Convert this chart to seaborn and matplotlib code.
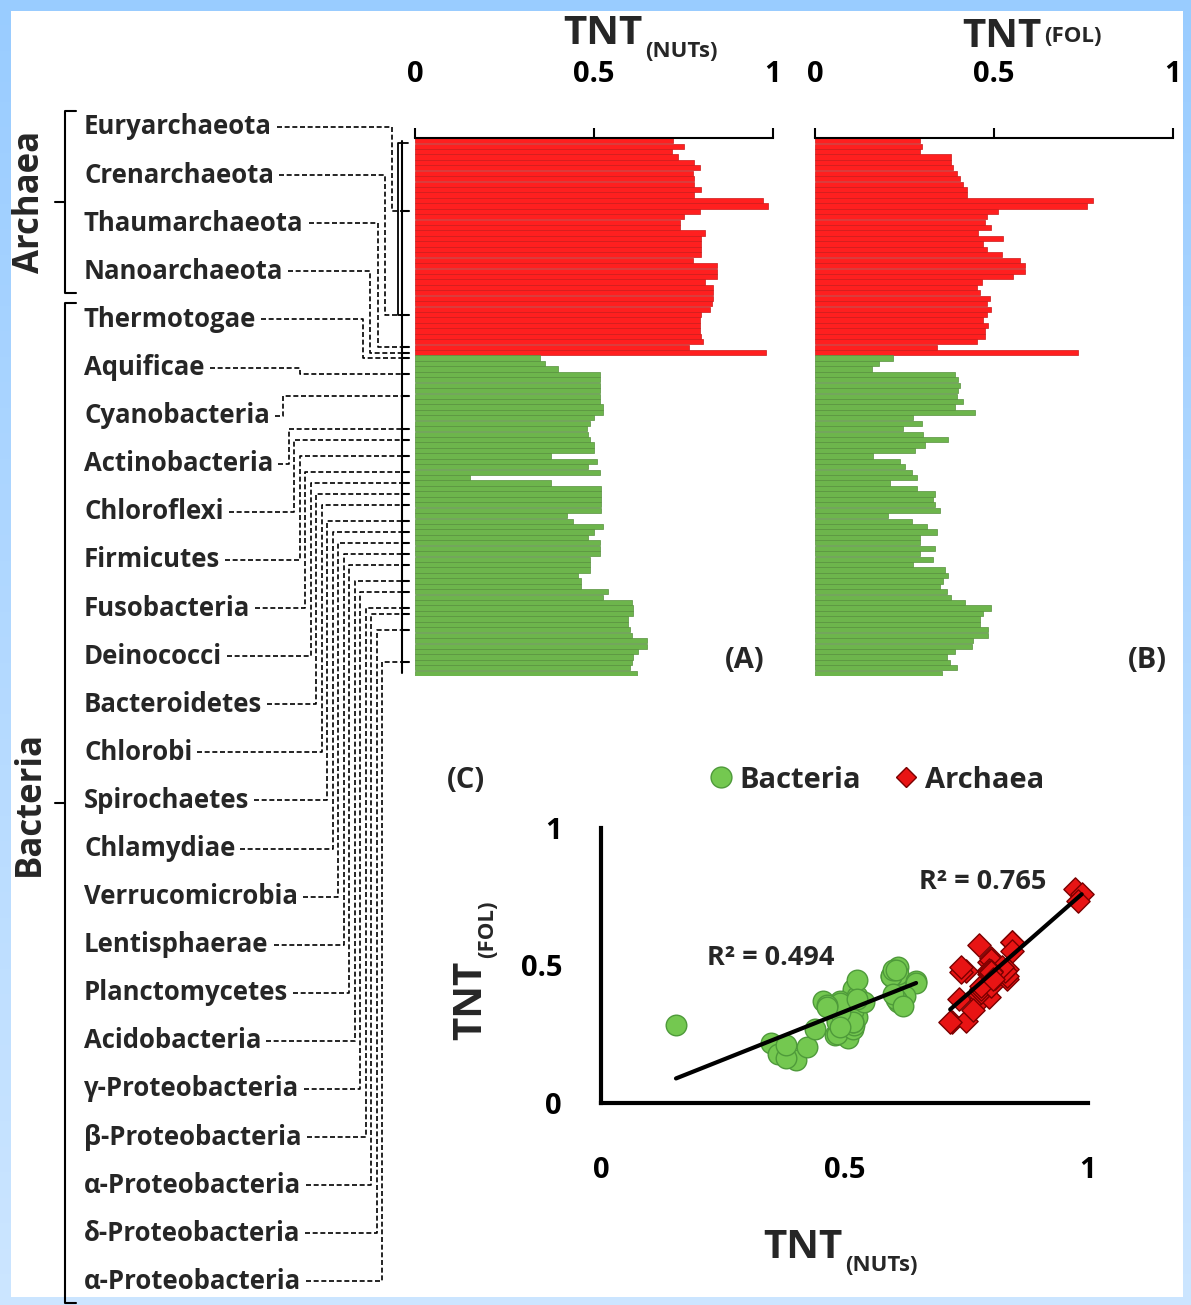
import numpy as np
import pandas as pd
import matplotlib
matplotlib.use("Agg")
import matplotlib.pyplot as plt
import seaborn as sns
from matplotlib.lines import Line2D
from matplotlib.patches import Rectangle
from matplotlib.colors import to_rgb

# ---------------- data ----------------
nuts_archaea = [0.72, 0.75, 0.717, 0.735, 0.78, 0.796, 0.777, 0.78, 0.78, 0.80,
                0.78, 0.973, 0.987, 0.796, 0.75, 0.74, 0.74, 0.81, 0.80, 0.80,
                0.80, 0.80, 0.777, 0.843, 0.843, 0.843, 0.81, 0.833, 0.833, 0.833,
                0.83, 0.824, 0.80, 0.796, 0.796, 0.796, 0.80, 0.805, 0.764, 0.98]
fol_archaea = [0.293, 0.298, 0.293, 0.38, 0.38, 0.386, 0.396, 0.405, 0.414, 0.424,
               0.424, 0.777, 0.759, 0.512, 0.48, 0.475, 0.493, 0.456, 0.526, 0.47,
               0.48, 0.521, 0.573, 0.587, 0.587, 0.554, 0.466, 0.452, 0.461, 0.489,
               0.48, 0.493, 0.48, 0.47, 0.484, 0.475, 0.475, 0.452, 0.34, 0.736]
nuts_bacteria = [0.35, 0.363, 0.40, 0.517, 0.517, 0.517, 0.517, 0.517, 0.517, 0.526,
                 0.526, 0.50, 0.49, 0.48, 0.484, 0.49, 0.50, 0.50, 0.38, 0.507,
                 0.484, 0.517, 0.154, 0.38, 0.52, 0.52, 0.52, 0.52, 0.52, 0.424,
                 0.44, 0.526, 0.50, 0.484, 0.517, 0.517, 0.517, 0.49, 0.49, 0.49,
                 0.456, 0.465, 0.465, 0.54, 0.526, 0.605, 0.61, 0.61, 0.596, 0.596,
                 0.60, 0.605, 0.647, 0.647, 0.624, 0.61, 0.605, 0.60, 0.62]
fol_bacteria = [0.219, 0.18, 0.158, 0.39, 0.40, 0.405, 0.40, 0.396, 0.414, 0.39,
                0.447, 0.275, 0.298, 0.247, 0.303, 0.372, 0.307, 0.28, 0.163, 0.237,
                0.251, 0.27, 0.284, 0.21, 0.284, 0.335, 0.33, 0.335, 0.349, 0.205,
                0.27, 0.312, 0.34, 0.293, 0.293, 0.335, 0.293, 0.33, 0.275, 0.363,
                0.372, 0.358, 0.349, 0.368, 0.38, 0.419, 0.493, 0.47, 0.461, 0.461,
                0.484, 0.484, 0.442, 0.438, 0.39, 0.368, 0.377, 0.396, 0.354]

phyla = ["Euryarchaeota", "Crenarchaeota", "Thaumarchaeota", "Nanoarchaeota",
         "Thermotogae", "Aquificae", "Cyanobacteria", "Actinobacteria", "Chloroflexi",
         "Firmicutes", "Fusobacteria", "Deinococci", "Bacteroidetes", "Chlorobi",
         "Spirochaetes", "Chlamydiae", "Verrucomicrobia", "Lentisphaerae",
         "Planctomycetes", "Acidobacteria", "γ-Proteobacteria", "β-Proteobacteria",
         "α-Proteobacteria", "δ-Proteobacteria", "α-Proteobacteria"]
n_archaeal_phyla = 4
# genome row (in the bar panels) where each phylum joins the tree
join_rows = [13, 32, 38, 39, 40, 43, 47, 53, 55, 58, 61, 63, 65, 67, 70, 72,
             74, 76, 78, 81, 83, 86, 87, 90, 96]

r2_labels = {"Bacteria": "R² = 0.494", "Archaea": "R² = 0.765"}

# ---------------- style ----------------
sns.set_theme(style="white")
plt.rcParams["font.family"] = ["Open Sans", "DejaVu Sans"]
plt.rcParams["font.weight"] = "bold"
plt.rcParams["axes.labelweight"] = "bold"

RED = "#FF1F1F"
GREEN = "#6DB54C"
SC_GREEN = "#74C850"
SC_RED = "#E81414"

W, H = 1191, 1305
fig = plt.figure(figsize=(W / 100, H / 100), dpi=100)


def fx(px):
    return px / W


def fy(py):
    return 1 - py / H


# frame: light-blue gradient border around a white sheet
bg = fig.add_axes([0, 0, 1, 1], zorder=-10)
g = np.linspace(0, 1, 256)[:, None, None]
top_c = np.array([0.60, 0.80, 1.0])
bot_c = np.array([0.80, 0.90, 1.0])
bg.imshow(top_c + (bot_c - top_c) * g, extent=(0, W, H, 0), aspect="auto")
bg.add_patch(Rectangle((11, 11), 1183 - 11, 1297 - 11, facecolor="white", edgecolor="none"))
bg.set_xlim(0, W)
bg.set_ylim(H, 0)
bg.axis("off")

# ---------------- bar panels ----------------
n_a, n_b = len(nuts_archaea), len(nuts_bacteria)
df = pd.DataFrame({
    "row": [f"g{i:03d}" for i in range(n_a + n_b)],
    "nuts": nuts_archaea + nuts_bacteria,
    "fol": fol_archaea + fol_bacteria,
    "domain": ["Archaea"] * n_a + ["Bacteria"] * n_b,
})
bar_pal = {"Archaea": RED, "Bacteria": GREEN}

axA = fig.add_axes([fx(415), fy(676), fx(773) - fx(415), (676 - 138) / H])
axB = fig.add_axes([fx(815), fy(676), fx(1173) - fx(815), (676 - 138) / H])
for ax, col in ((axA, "nuts"), (axB, "fol")):
    sns.barplot(data=df, x=col, y="row", hue="domain", palette=bar_pal, orient="h",
                dodge=False, width=0.96, saturation=1, legend=False, ax=ax)
    for p in ax.patches:
        fc = to_rgb(p.get_facecolor())
        p.set_edgecolor(tuple(c * 0.8 for c in fc))
        p.set_linewidth(0.5)
    ax.set_xlim(0, 1)
    ax.set_xticks([0, 0.5, 1])
    ax.set_xticklabels(["0", "0.5", "1"])
    ax.xaxis.tick_top()
    ax.tick_params(axis="x", direction="out", length=7, width=1.5, pad=28,
                   labelsize=21, color="black", labelcolor="black")
    ax.set_yticks([])
    for s in ("left", "right", "bottom"):
        ax.spines[s].set_visible(False)
    ax.spines["top"].set_linewidth(1.5)
    ax.spines["top"].set_color("black")
    ax.set_xlabel("")
    ax.set_ylabel("")
    ax.patch.set_visible(False)

# ---------------- scatter panel ----------------
axC = fig.add_axes([fx(601), fy(1103), fx(1088) - fx(601), (1103 - 828) / H])
sns.scatterplot(data=df[df.domain == "Bacteria"], x="nuts", y="fol", marker="o",
                color=SC_GREEN, edgecolor="#4E9A3A", linewidth=1, s=220,
                ax=axC, legend=False, zorder=3, clip_on=False)
sns.scatterplot(data=df[df.domain == "Archaea"], x="nuts", y="fol", marker="D",
                color=SC_RED, edgecolor="#7A0000", linewidth=1, s=140,
                ax=axC, legend=False, zorder=3, clip_on=False)
for dom in ("Bacteria", "Archaea"):
    sns.regplot(data=df[df.domain == dom], x="nuts", y="fol", scatter=False, ci=None,
                color="black", line_kws=dict(lw=3, zorder=4), ax=axC)
axC.set_xlim(0, 1)
axC.set_ylim(0, 1)
axC.set_xticks([0, 0.5, 1])
axC.set_xticklabels(["0", "0.5", "1"])
axC.set_yticks([0, 0.5, 1])
axC.set_yticklabels(["0", "0.5", "1"])
axC.tick_params(axis="both", length=0, labelsize=21, labelcolor="black")
axC.tick_params(axis="x", pad=38)
axC.tick_params(axis="y", pad=28)
for s in ("top", "right"):
    axC.spines[s].set_visible(False)
for s in ("left", "bottom"):
    axC.spines[s].set_linewidth(3)
    axC.spines[s].set_color("black")
axC.set_xlabel("")
axC.set_ylabel("")
axC.patch.set_visible(False)

handles = [
    Line2D([], [], ls="none", marker="o", ms=15, mfc=SC_GREEN, mec="#4E9A3A", label="Bacteria"),
    Line2D([], [], ls="none", marker="D", ms=10, mfc=SC_RED, mec="#7A0000", label="Archaea"),
]
axC.legend(handles=handles, loc="center", bbox_to_anchor=(fx(876), fy(780)),
           bbox_transform=fig.transFigure, ncol=2, frameon=False, fontsize=21,
           handletextpad=0.2, columnspacing=1.1, handlelength=0.9)

# ---------------- overlay: texts and tree ----------------
ov = fig.add_axes([0, 0, 1, 1], zorder=5)
ov.set_xlim(0, W)
ov.set_ylim(H, 0)
ov.axis("off")

t = fig.text(fx(563), fy(44), "TNT", fontsize=29, ha="left", va="baseline")
ov.annotate("(NUTs)", xy=(1, 0.05), xycoords=t, xytext=(2, 0), textcoords="offset points",
            ha="left", va="center", fontsize=16)
t = fig.text(fx(962), fy(47), "TNT", fontsize=29, ha="left", va="baseline")
ov.annotate("(FOL)", xy=(1, 0.5), xycoords=t, xytext=(2, 0), textcoords="offset points",
            ha="left", va="center", fontsize=16)
t = fig.text(fx(763), fy(1258), "TNT", fontsize=29, ha="left", va="baseline")
ov.annotate("(NUTs)", xy=(1, 0.05), xycoords=t, xytext=(2, 0), textcoords="offset points",
            ha="left", va="center", fontsize=16)
t = fig.text(fx(490), fy(1040), "TNT", fontsize=29, rotation=90, ha="right", va="bottom")
ov.annotate("(FOL)", xy=(0.95, 1), xycoords=t, xytext=(0, 2), textcoords="offset points",
            ha="center", va="bottom", rotation=90, fontsize=16)

ov.text(745, 660, "(A)", ha="center", va="center", fontsize=21)
ov.text(1147, 660, "(B)", ha="center", va="center", fontsize=21)
ov.text(466, 780, "(C)", ha="center", va="center", fontsize=21)
ov.text(771, 958, r2_labels["Bacteria"], ha="center", va="center", fontsize=19.5)
ov.text(983, 882, r2_labels["Archaea"], ha="center", va="center", fontsize=19.5)

label_y = 127 + 48.1 * np.arange(len(phyla))
texts = [ov.text(84, y, name, ha="left", va="center", fontsize=18.5)
         for name, y in zip(phyla, label_y)]

fig.canvas.draw()
renderer = fig.canvas.get_renderer()


def row_y(r):
    return H - axA.transData.transform((0, r))[1]


dash = (0, (3, 1.6))
tree_x = 402
for i, (txt, y0, r) in enumerate(zip(texts, label_y, join_rows)):
    x_end = txt.get_window_extent(renderer).x1 + 5
    if i < 5:
        depth = 392 - 7.2 * i
    elif i == 5:
        depth = 300
    else:
        depth = 283 + 5.5 * (i - 6)
    yr = row_y(r)
    ov.plot([x_end, depth, depth, tree_x], [y0, y0, yr, yr],
            color="black", lw=1.2, ls=dash, solid_capstyle="butt")
    ov.plot([tree_x, tree_x + 7], [yr, yr], color="black", lw=1.5)

# solid backbone beside the bars
ov.plot([tree_x, tree_x], [row_y(0), row_y(len(df) - 1)], color="black", lw=1.5)
ov.plot([tree_x + 6, tree_x - 4, tree_x - 4, tree_x],
        [row_y(0.5), row_y(0.5), row_y(32), row_y(32)], color="black", lw=1.3)

# domain brackets and names
groups = [("Archaea", 0, n_archaeal_phyla - 1),
          ("Bacteria", n_archaeal_phyla, len(phyla) - 1)]
for name, i0, i1 in groups:
    top = label_y[i0] - 16
    bot = label_y[i1] + 22
    mid = (top + bot) / 2
    ov.plot([76, 65, 65, 76], [top, top, bot, bot], color="black", lw=1.5)
    ov.plot([65, 55], [mid, mid], color="black", lw=1.5)
    ov.text(30, mid, name, rotation=90, ha="center", va="center", fontsize=25)

fig.savefig("out.png", dpi=100)
